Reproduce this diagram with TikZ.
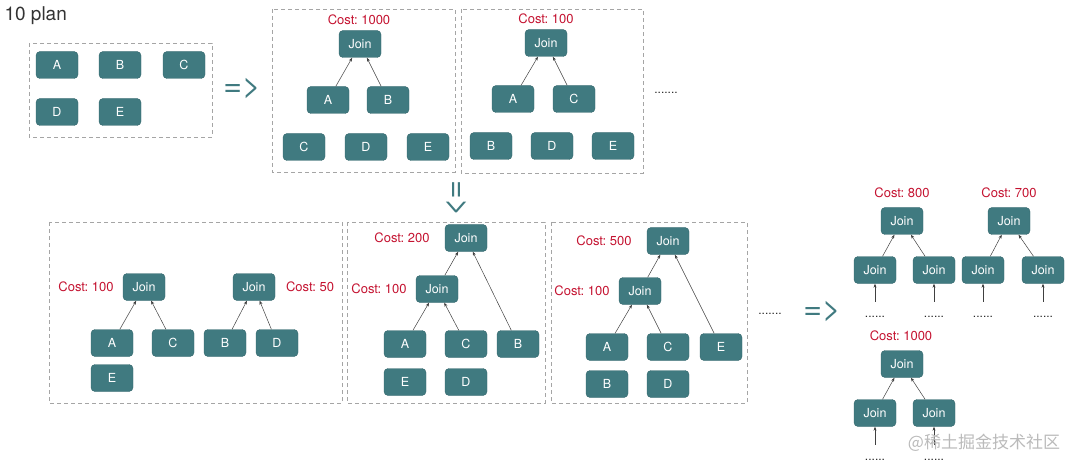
\documentclass[tikz,border=0pt]{standalone}
\usepackage{fontspec}
\setmainfont{TeX Gyre Heros}
\newfontfamily\cjk{Noto Sans CJK SC}
\usepackage{tikz}
\usetikzlibrary{arrows.meta}
\frenchspacing
\definecolor{tealbox}{RGB}{64,122,128}
\definecolor{costred}{RGB}{196,18,48}
\definecolor{framegray}{RGB}{165,165,165}
\tikzset{
  tbl/.style={draw=tealbox!85!black, fill=tealbox, rounded corners=4pt, text=white,
    minimum width=42pt, minimum height=27pt, inner sep=0pt, font=\fontsize{12.5}{14}\selectfont},
  cost/.style={text=costred, font=\fontsize{13}{15}\selectfont},
  plan/.style={draw=framegray, dash pattern=on 4pt off 3pt, line width=0.8pt},
  arr/.style={-{Stealth[length=4pt,width=3pt]}, draw=black!75, line width=0.5pt},
  impl/.style={text=tealbox, font=\fontsize{32}{34}\selectfont},
  more/.style={text=black!85, font=\fontsize{12}{14}\selectfont}
}

\begin{document}
\begin{tikzpicture}[x=1pt,y=-1pt]
   \useasboundingbox (0,0) rectangle (1080,468);
   \draw (1,16) node[anchor=west, text=black!80, font=\fontsize{19}{21}\selectfont] (title) {10 plan};

   % the five tables
   \draw[plan] (29,43) rectangle (212,137);
   \draw (57,65) node[tbl] (a0) {A};
   \draw (120,65) node[tbl] (b0) {B};
   \draw (184,65) node[tbl] (c0) {C};
   \draw (57,112) node[tbl] (d0) {D};
   \draw (120,112) node[tbl] (e0) {E};
   \draw (242,89) node[impl] (impl1) {=>};

   % first join: A, B
   \draw[plan] (272,9) rectangle (455,172);
   \draw (359,20) node[cost] (cost1) {Cost: 1000};
   \draw (360,44) node[tbl] (join1) {Join};
   \draw (328,100) node[tbl] (a1) {A};
   \draw (388,100) node[tbl] (b1) {B};
   \draw (304,147) node[tbl] (c1) {C};
   \draw (366,147) node[tbl] (d1) {D};
   \draw (428,147) node[tbl] (e1) {E};
     \path[arr] (a1) edge (join1) (b1) edge (join1);

   % first join: A, C
   \draw[plan] (461,9) rectangle (643,173);
   \draw (546,19) node[cost] (cost2) {Cost: 100};
   \draw (546,43) node[tbl] (join2) {Join};
   \draw (513,99) node[tbl] (a2) {A};
   \draw (574,99) node[tbl] (c2) {C};
   \draw (491,146) node[tbl] (b2) {B};
   \draw (552,146) node[tbl] (d2) {D};
   \draw (613,146) node[tbl] (e2) {E};
     \path[arr] (a2) edge (join2) (c2) edge (join2);
   \draw (666,93) node[more] (more1) {.......};

   \draw (456,199) node[impl, rotate=-90] (impl2) {=>};

   % second level
   \draw[plan] (49,222) rectangle (342,403);
   \draw (86,287) node[cost] (cost3l) {Cost: 100};
   \draw (144,287) node[tbl] (join3l) {Join};
   \draw (254,287) node[tbl] (join3r) {Join};
   \draw (310,287) node[cost] (cost3r) {Cost: 50};
   \draw (112,343) node[tbl] (a3) {A};
   \draw (173,343) node[tbl] (c3) {C};
   \draw (225,343) node[tbl] (b3) {B};
   \draw (277,343) node[tbl] (d3) {D};
   \draw (112,378) node[tbl] (e3) {E};
     \path[arr] (a3) edge (join3l) (c3) edge (join3l);
     \path[arr] (b3) edge (join3r) (d3) edge (join3r);

   \draw[plan] (347,222) rectangle (545,403);
   \draw (402,238) node[cost] (cost4t) {Cost: 200};
   \draw (466,238) node[tbl] (join4t) {Join};
   \draw (379,289) node[cost] (cost4m) {Cost: 100};
   \draw (437,289) node[tbl] (join4m) {Join};
   \draw (405,344) node[tbl] (a4) {A};
   \draw (466,344) node[tbl] (c4) {C};
   \draw (518,344) node[tbl] (b4) {B};
   \draw (405,382) node[tbl] (e4) {E};
   \draw (466,382) node[tbl] (d4) {D};
     \path[arr] (a4) edge (join4m) (c4) edge (join4m);
     \path[arr] (join4m) edge (join4t) (b4) edge (join4t);

   \draw[plan] (551,222) rectangle (747,403);
   \draw (604,241) node[cost] (cost5t) {Cost: 500};
   \draw (668,241) node[tbl] (join5t) {Join};
   \draw (582,291) node[cost] (cost5m) {Cost: 100};
   \draw (640,291) node[tbl] (join5m) {Join};
   \draw (607,347) node[tbl] (a5) {A};
   \draw (668,347) node[tbl] (c5) {C};
   \draw (721,347) node[tbl] (e5) {E};
   \draw (607,384) node[tbl] (b5) {B};
   \draw (668,384) node[tbl] (d5) {D};
     \path[arr] (a5) edge (join5m) (c5) edge (join5m);
     \path[arr] (join5m) edge (join5t) (e5) edge (join5t);

   \draw (770,314) node[more] (more2) {.......};
   \draw (822,311) node[impl] (impl3) {=>};

   % full plans
   \draw (902,193) node[cost] (cost6) {Cost: 800};
   \draw (902,221) node[tbl] (join6) {Join};
   \draw (875,270) node[tbl] (join6l) {Join};
   \draw (934,270) node[tbl] (join6r) {Join};
   \draw (875,317) node[more] (more6l) {......};
   \draw (934,317) node[more] (more6r) {......};
     \path[arr] (join6l) edge (join6) (join6r) edge (join6);
     \path[arr] (more6l) edge[shorten <=11pt] (join6l) (more6r) edge[shorten <=11pt] (join6r);

   \draw (1009,193) node[cost] (cost7) {Cost: 700};
   \draw (1009,221) node[tbl] (join7) {Join};
   \draw (983,270) node[tbl] (join7l) {Join};
   \draw (1043,270) node[tbl] (join7r) {Join};
   \draw (983,317) node[more] (more7l) {......};
   \draw (1043,317) node[more] (more7r) {......};
     \path[arr] (join7l) edge (join7) (join7r) edge (join7);
     \path[arr] (more7l) edge[shorten <=11pt] (join7l) (more7r) edge[shorten <=11pt] (join7r);

   \draw (901,336) node[cost] (cost8) {Cost: 1000};
   \draw (902,364) node[tbl] (join8) {Join};
   \draw (875,413) node[tbl] (join8l) {Join};
   \draw (934,413) node[tbl] (join8r) {Join};
   \draw (875,460) node[more] (more8l) {......};
   \draw (934,460) node[more] (more8r) {......};
     \path[arr] (join8l) edge (join8) (join8r) edge (join8);
     \path[arr] (more8l) edge[shorten <=11pt] (join8l) (more8r) edge[shorten <=11pt] (join8r);

   \draw (984,443) node[text=black!27, font=\cjk\fontsize{17}{19}\selectfont] (mark) {@稀土掘金技术社区};
\end{tikzpicture}
\end{document}
